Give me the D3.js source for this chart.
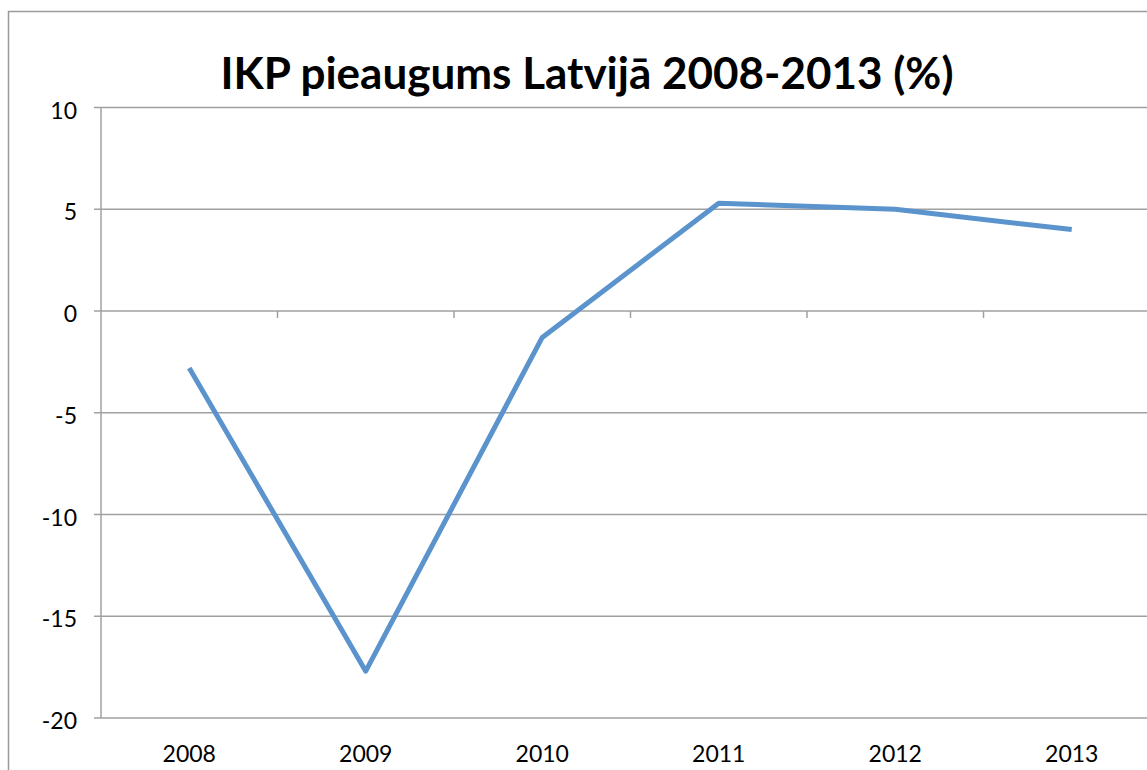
<!DOCTYPE html>
<html>
<head>
<meta charset="utf-8">
<script src="https://cdn.jsdelivr.net/npm/d3@7"></script>
<style>
  html, body { margin: 0; padding: 0; background: #fff; overflow: hidden; }
  svg { display: block; }
</style>
</head>
<body>
<div id="chart"></div>
<script>
const years = ["2008", "2009", "2010", "2011", "2012", "2013"];
const growth = [-2.8, -17.7, -1.3, 5.3, 5.0, 4.0];
const yTicks = [10, 5, 0, -5, -10, -15, -20];
const title = "IKP pieaugums Latvijā 2008-2013 (%)";

const width = 1147, height = 770;
const plotLeft = 101, plotTop = 107.5, plotBottom = 718;
const plotRight = plotLeft + 6 * 176.5; // plot runs past the window edge
const font = "Lato, 'Open Sans', sans-serif";

const svg = d3.select("#chart").append("svg")
    .attr("width", width)
    .attr("height", height);

// outer chart frame
svg.append("rect")
    .attr("x", 8.5).attr("y", 11.5)
    .attr("width", 1300).attr("height", 900)
    .attr("fill", "none")
    .attr("stroke", "#9a9a9a")
    .attr("stroke-width", 1.5);

const x = d3.scalePoint().domain(years).range([plotLeft, plotRight]).padding(0.5);
const xBand = d3.scaleBand().domain(years).range([plotLeft, plotRight]);
const y = d3.scaleLinear().domain([-20, 10]).range([plotBottom, plotTop]);

// horizontal gridlines
svg.append("g")
    .selectAll("line")
    .data(yTicks)
    .enter().append("line")
    .attr("x1", plotLeft - 7)
    .attr("x2", width + 10)
    .attr("y1", d => y(d))
    .attr("y2", d => y(d))
    .attr("stroke", "#a0a0a0")
    .attr("stroke-width", 1.5);

// y axis line
svg.append("line")
    .attr("x1", plotLeft).attr("x2", plotLeft)
    .attr("y1", plotTop).attr("y2", plotBottom)
    .attr("stroke", "#a0a0a0")
    .attr("stroke-width", 1.5);

// y labels
svg.append("g")
    .selectAll("text")
    .data(yTicks)
    .enter().append("text")
    .attr("x", 77)
    .attr("y", d => y(d) + 11)
    .attr("text-anchor", "end")
    .attr("font-family", font)
    .attr("font-size", 23)
    .attr("fill", "#000")
    .text(d => d);

// category tick marks on the zero line
svg.append("g")
    .selectAll("line")
    .data(years.slice(1))
    .enter().append("line")
    .attr("x1", d => xBand(d))
    .attr("x2", d => xBand(d))
    .attr("y1", y(0))
    .attr("y2", y(0) + 7)
    .attr("stroke", "#a0a0a0")
    .attr("stroke-width", 1.5);

// x labels
svg.append("g")
    .selectAll("text")
    .data(years)
    .enter().append("text")
    .attr("x", d => x(d))
    .attr("y", 762)
    .attr("text-anchor", "middle")
    .attr("font-family", font)
    .attr("font-size", 23)
    .attr("fill", "#000")
    .text(d => d);

// data line
const line = d3.line()
    .x((d, i) => x(years[i]))
    .y(d => y(d));

svg.append("path")
    .datum(growth)
    .attr("d", line)
    .attr("fill", "none")
    .attr("stroke", "#5b93cd")
    .attr("stroke-width", 5)
    .attr("stroke-linejoin", "round");

// title
svg.append("text")
    .attr("x", 587)
    .attr("y", 89)
    .attr("text-anchor", "middle")
    .attr("font-family", font)
    .attr("font-weight", "bold")
    .attr("font-size", 44)
    .attr("fill", "#000")
    .text(title);
</script>
</body>
</html>
